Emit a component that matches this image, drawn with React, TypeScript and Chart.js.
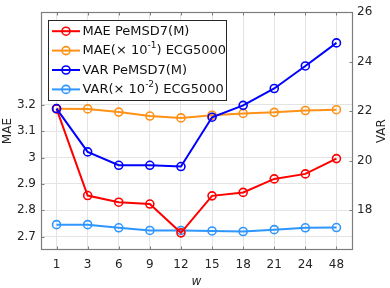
import React, { useEffect, useRef } from "react";
import { Chart, registerables } from "chart.js";

Chart.register(...registerables);

// ---------- data ----------
const categories = ["1", "3", "6", "9", "12", "15", "18", "21", "24", "48"];
const maePeMSD7 = [3.184, 2.856, 2.831, 2.824, 2.715, 2.855, 2.868, 2.919, 2.938, 2.996];
const maeECG5000 = [3.185, 3.184, 3.172, 3.157, 3.15, 3.16, 3.167, 3.171, 3.178, 3.181];
const varPeMSD7 = [22.11, 20.36, 19.82, 19.82, 19.77, 21.76, 22.24, 22.92, 23.83, 24.76];
const varECG5000 = [2.746, 2.746, 2.734, 2.724, 2.724, 2.722, 2.72, 2.727, 2.734, 2.735];
const seriesLabels = [
  "MAE PeMSD7(M)",
  "MAE(× 10^{-1}) ECG5000",
  "VAR PeMSD7(M)",
  "VAR(× 10^{-2}) ECG5000",
];
const seriesColors = ["#ff0000", "#ff9117", "#0000ff", "#2f96ff"];
const leftTicks = [2.7, 2.8, 2.9, 3.0, 3.1, 3.2];
const rightTicks = [18, 20, 22, 24, 26];
const xTitle = "w";
const leftTitle = "MAE";
const rightTitle = "VAR";

const FONT = "'DejaVu Sans', 'Liberation Sans', Arial, sans-serif";
const TEXT = "#262626";
const GRID = "#e4e4e4";
const FRAME = "#7d7d7d";

const framePlugin = {
  id: "framePlugin",
  beforeDatasetsDraw(chart: any) {
    const { ctx, chartArea: a, scales } = chart;
    ctx.save();
    ctx.strokeStyle = FRAME;
    ctx.lineWidth = 1.2;
    const L = Math.round(a.left) + 0.5;
    const R = Math.round(a.right) + 0.5;
    const T = Math.round(a.top) + 0.5;
    const B = Math.round(a.bottom) - 0.5;
    ctx.strokeRect(L, T, R - L, B - T);
    ctx.lineWidth = 1;
    const tl = 3;
    ctx.beginPath();
    scales.x.ticks.forEach((_t: any, i: number) => {
      const px = Math.round(scales.x.getPixelForTick(i)) + 0.5;
      ctx.moveTo(px, B);
      ctx.lineTo(px, B - tl);
      ctx.moveTo(px, T);
      ctx.lineTo(px, T + tl);
    });
    leftTicks.forEach((v) => {
      const py = Math.round(scales.y.getPixelForValue(v)) + 0.5;
      ctx.moveTo(L, py);
      ctx.lineTo(L + tl, py);
    });
    rightTicks.forEach((v) => {
      const py = Math.round(scales.y1.getPixelForValue(v)) + 0.5;
      ctx.moveTo(R, py);
      ctx.lineTo(R - tl, py);
    });
    ctx.stroke();

    // right axis title (reads bottom to top)
    ctx.fillStyle = TEXT;
    ctx.font = `12px ${FONT}`;
    ctx.textAlign = "center";
    ctx.textBaseline = "middle";
    ctx.translate(382, (a.top + a.bottom) / 2);
    ctx.rotate(-Math.PI / 2);
    ctx.fillText(rightTitle, 0, 0);
    ctx.restore();
  },
};

function drawRich(ctx: CanvasRenderingContext2D, text: string, x: number, y: number) {
  const parts = text.split(/(\^\{[^}]*\})/);
  let cx = x;
  parts.forEach((p) => {
    if (!p) return;
    const m = p.match(/^\^\{([^}]*)\}$/);
    if (m) {
      ctx.font = `9px ${FONT}`;
      ctx.fillText(m[1], cx, y - 5);
      cx += ctx.measureText(m[1]).width;
    } else {
      ctx.font = `13px ${FONT}`;
      ctx.fillText(p, cx, y);
      cx += ctx.measureText(p).width;
    }
  });
}

const legendPlugin = {
  id: "boxLegend",
  afterDatasetsDraw(chart: any) {
    const { ctx, chartArea: a } = chart;
    const bx = a.left + 7;
    const by = a.top + 8;
    const bw = 178;
    const bh = 80;
    ctx.save();
    ctx.fillStyle = "#ffffff";
    ctx.fillRect(bx, by, bw, bh);
    ctx.strokeStyle = "#262626";
    ctx.lineWidth = 1;
    ctx.strokeRect(Math.round(bx) + 0.5, Math.round(by) + 0.5, bw, bh);
    chart.data.datasets.forEach((ds: any, i: number) => {
      const y = by + 11 + i * 19.4;
      ctx.strokeStyle = ds.borderColor;
      ctx.lineWidth = 2;
      ctx.beginPath();
      ctx.moveTo(bx + 4, y);
      ctx.lineTo(bx + 32, y);
      ctx.stroke();
      ctx.beginPath();
      ctx.arc(bx + 18, y, 4, 0, Math.PI * 2);
      ctx.lineWidth = 1.6;
      ctx.stroke();
      ctx.fillStyle = "#111111";
      ctx.textAlign = "left";
      ctx.textBaseline = "middle";
      drawRich(ctx, ds.label, bx + 34.5, y + 0.5);
    });
    ctx.restore();
  },
};

export default function App() {
  const ref = useRef<HTMLCanvasElement | null>(null);
  useEffect(() => {
    document.body.style.margin = "0";
    const canvas = ref.current;
    if (!canvas) return;
    const mk = (label: string, data: number[], color: string, axis: string, order: number) => ({
      label,
      data,
      borderColor: color,
      backgroundColor: color,
      pointBorderColor: color,
      pointBackgroundColor: "rgba(0,0,0,0)",
      borderWidth: 2,
      pointRadius: 4,
      pointBorderWidth: 1.6,
      tension: 0,
      yAxisID: axis,
      order,
    });
    const chart = new Chart(canvas, {
      type: "line",
      data: {
        labels: categories,
        datasets: [
          mk(seriesLabels[0], maePeMSD7, seriesColors[0], "y", 1),
          mk(seriesLabels[1], maeECG5000, seriesColors[1], "y", 3),
          mk(seriesLabels[2], varPeMSD7, seriesColors[2], "y1", 0),
          mk(seriesLabels[3], varECG5000, seriesColors[3], "y", 2),
        ],
      },
      options: {
        responsive: false,
        animation: false,
        devicePixelRatio: 1,
        layout: { padding: { top: 4, left: 0, right: 0, bottom: 0 } },
        plugins: { legend: { display: false }, tooltip: { enabled: false } },
        scales: {
          x: {
            type: "category",
            offset: true,
            grid: { offset: false, color: GRID, drawTicks: false, lineWidth: 1 },
            border: { display: false },
            ticks: {
              color: TEXT,
              font: { family: FONT, size: 12 },
              padding: 8,
              maxRotation: 0,
              autoSkip: false,
            },
            title: {
              display: true,
              text: xTitle,
              color: TEXT,
              font: { family: FONT, size: 12, style: "italic", lineHeight: 1 },
              padding: 0,
            },
            afterFit: (s: any) => {
              s.height = 38;
            },
          },
          y: {
            position: "left",
            min: 2.65,
            max: 3.55,
            afterBuildTicks: (s: any) => {
              s.ticks = leftTicks.map((v) => ({ value: v }));
            },
            grid: { color: GRID, drawTicks: false },
            border: { display: false },
            ticks: {
              color: TEXT,
              font: { family: FONT, size: 12 },
              padding: 5,
              autoSkip: false,
              callback: (v: any) => String(Number(v)),
            },
            title: {
              display: true,
              text: leftTitle,
              color: TEXT,
              font: { family: FONT, size: 12 },
              padding: { top: 1, bottom: 0 },
            },
            afterFit: (s: any) => {
              s.width = 41;
            },
          },
          y1: {
            position: "right",
            min: 16.4,
            max: 26,
            afterBuildTicks: (s: any) => {
              s.ticks = rightTicks.map((v) => ({ value: v }));
            },
            grid: { drawOnChartArea: false, drawTicks: false },
            border: { display: false },
            ticks: {
              color: TEXT,
              font: { family: FONT, size: 12 },
              padding: 5,
              autoSkip: false,
              callback: (v: any) => String(Number(v)),
            },
            afterFit: (s: any) => {
              s.width = 38;
            },
          },
        },
      } as any,
      plugins: [framePlugin, legendPlugin],
    });
    return () => chart.destroy();
  }, []);
  return (
    <div style={{ position: "absolute", left: 0, top: 0, width: 390, height: 288 }}>
      <canvas ref={ref} width={390} height={288} style={{ display: "block" }} />
    </div>
  );
}
